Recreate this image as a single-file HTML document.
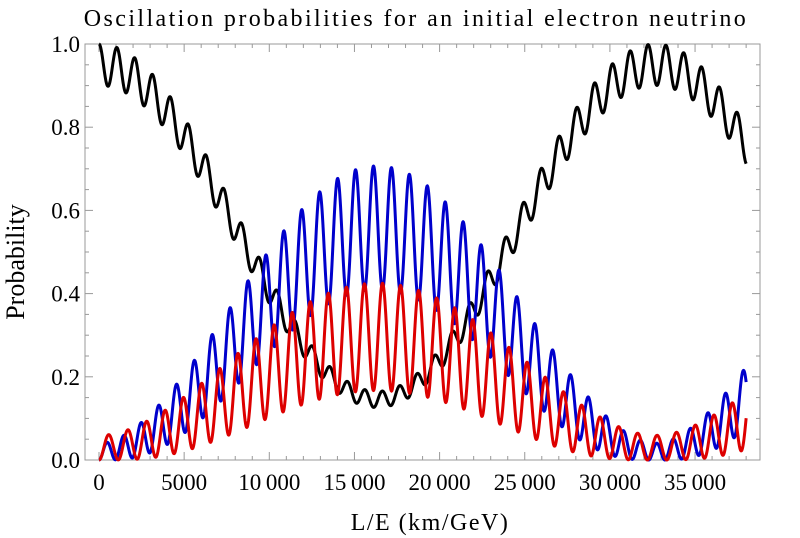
<!DOCTYPE html>
<html><head><meta charset="utf-8"><style>
html,body{margin:0;padding:0;background:#fff;}
svg{display:block;font-family:"Liberation Serif",serif;}
</style></head><body>
<svg id="chart" width="800" height="538" viewBox="0 0 800 538">
<text x="416" y="26" font-size="24" letter-spacing="2.4" text-anchor="middle">Oscillation probabilities for an initial electron neutrino</text>
<text x="430" y="530" font-size="24" letter-spacing="1.5" text-anchor="middle">L/E (km/GeV)</text>
<text transform="translate(24,262) rotate(-90)" font-size="26" text-anchor="middle">Probability</text>
<rect x="85" y="44" width="675" height="416" fill="none" stroke="#999" stroke-width="1"/>
<g id="ticks"></g><g id="series"></g>
</svg>
<script>
// Data: tick labels and oscillation parameters (the curves are 3-flavour oscillation probabilities)
const xTicks = [0, 5000, 10000, 15000, 20000, 25000, 30000, 35000];
const xTickLabels = ["0", "5000", "10\u2009000", "15\u2009000", "20\u2009000", "25\u2009000", "30\u2009000", "35\u2009000"];
const yTicks = [0, 0.2, 0.4, 0.6, 0.8, 1.0];
const yTickLabels = ["0.0", "0.2", "0.4", "0.6", "0.8", "1.0"];
const mixingAnglesDeg = [33.5, 9.2, 39.5]; // theta12, theta13, theta23
const massSplittings = [7.59e-5, 2.384e-3];  // dm21, dm31 (eV^2)
const lRange = [0, 38000];
const seriesNames = ["nu-e", "nu-mu", "nu-tau"];
const seriesColors = ["#000", "#0000cc", "#dd0000"];

const NS = "http://www.w3.org/2000/svg";
const X0 = 99, XS = 0.01703, Y0 = 460, YS = 416;
const xs = v => X0 + v * XS, ys = v => Y0 - v * YS;
const tg = document.getElementById('ticks');
function mk(tag, attrs, parent) { const e = document.createElementNS(NS, tag); for (const k in attrs) e.setAttribute(k, attrs[k]); parent.appendChild(e); return e; }

for (let v = 0; v <= 38000; v += 1000) {
  const major = v % 5000 === 0;
  const t = mk('line', {x1: xs(v), x2: xs(v), y1: Y0, y2: Y0 - (major ? 8 : 4), stroke: '#999'}, tg);
  
  
  const t2 = mk('line', {x1: xs(v), x2: xs(v), y1: 44, y2: 44 + (major ? 8 : 4), stroke: '#999'}, tg);
  
  
}
xTicks.forEach((v, i) => {
  const t = mk('text', {x: xs(v), y: 490, 'font-size': 23, 'text-anchor': 'middle'}, tg);
  t.textContent = xTickLabels[i];
  
  
});
for (let v = 0; v <= 1.0001; v += 0.05) {
  const major = Math.abs(v * 5 - Math.round(v * 5)) < 1e-6;
  const t = mk('line', {x1: 85, x2: 85 + (major ? 8 : 4), y1: ys(v), y2: ys(v), stroke: '#999'}, tg);
  
  
  const t2 = mk('line', {x1: 760, x2: 760 - (major ? 8 : 4), y1: ys(v), y2: ys(v), stroke: '#999'}, tg);
  
  
}
yTicks.forEach((v, i) => {
  const t = mk('text', {x: 80, y: ys(v) + 8, 'font-size': 23, 'text-anchor': 'end'}, tg);
  t.textContent = yTickLabels[i];
  
  
});

// PMNS matrix (real, delta = 0)
const r = d => d * Math.PI / 180;
const [t12, t13, t23] = mixingAnglesDeg.map(r);
const s12 = Math.sin(t12), c12 = Math.cos(t12), s13 = Math.sin(t13), c13 = Math.cos(t13), s23 = Math.sin(t23), c23 = Math.cos(t23);
const U = [
  [c12 * c13, s12 * c13, s13],
  [-s12 * c23 - c12 * s23 * s13, c12 * c23 - s12 * s23 * s13, s23 * c13],
  [s12 * s23 - c12 * c23 * s13, -c12 * s23 - s12 * c23 * s13, c23 * c13]
];
const m2 = [0, massSplittings[0], massSplittings[1]];
function prob(a, L) {
  let re = 0, im = 0;
  for (let i = 0; i < 3; i++) { const ph = 2.534 * m2[i] * L; const w = U[a][i] * U[0][i]; re += w * Math.cos(ph); im -= w * Math.sin(ph); }
  return re * re + im * im;
}
const sg = document.getElementById('series');
[0, 1, 2].forEach(a => {
  let d = '';
  for (let L = lRange[0]; L <= lRange[1]; L += 20) {
    d += (L === 0 ? 'M' : 'L') + xs(L).toFixed(2) + ',' + ys(prob(a, L)).toFixed(2);
  }
  const p = mk('path', {d: d, fill: 'none', stroke: seriesColors[a], 'stroke-width': 3, 'stroke-linejoin': 'round'}, sg);
  
  
});
</script>
</body></html>
